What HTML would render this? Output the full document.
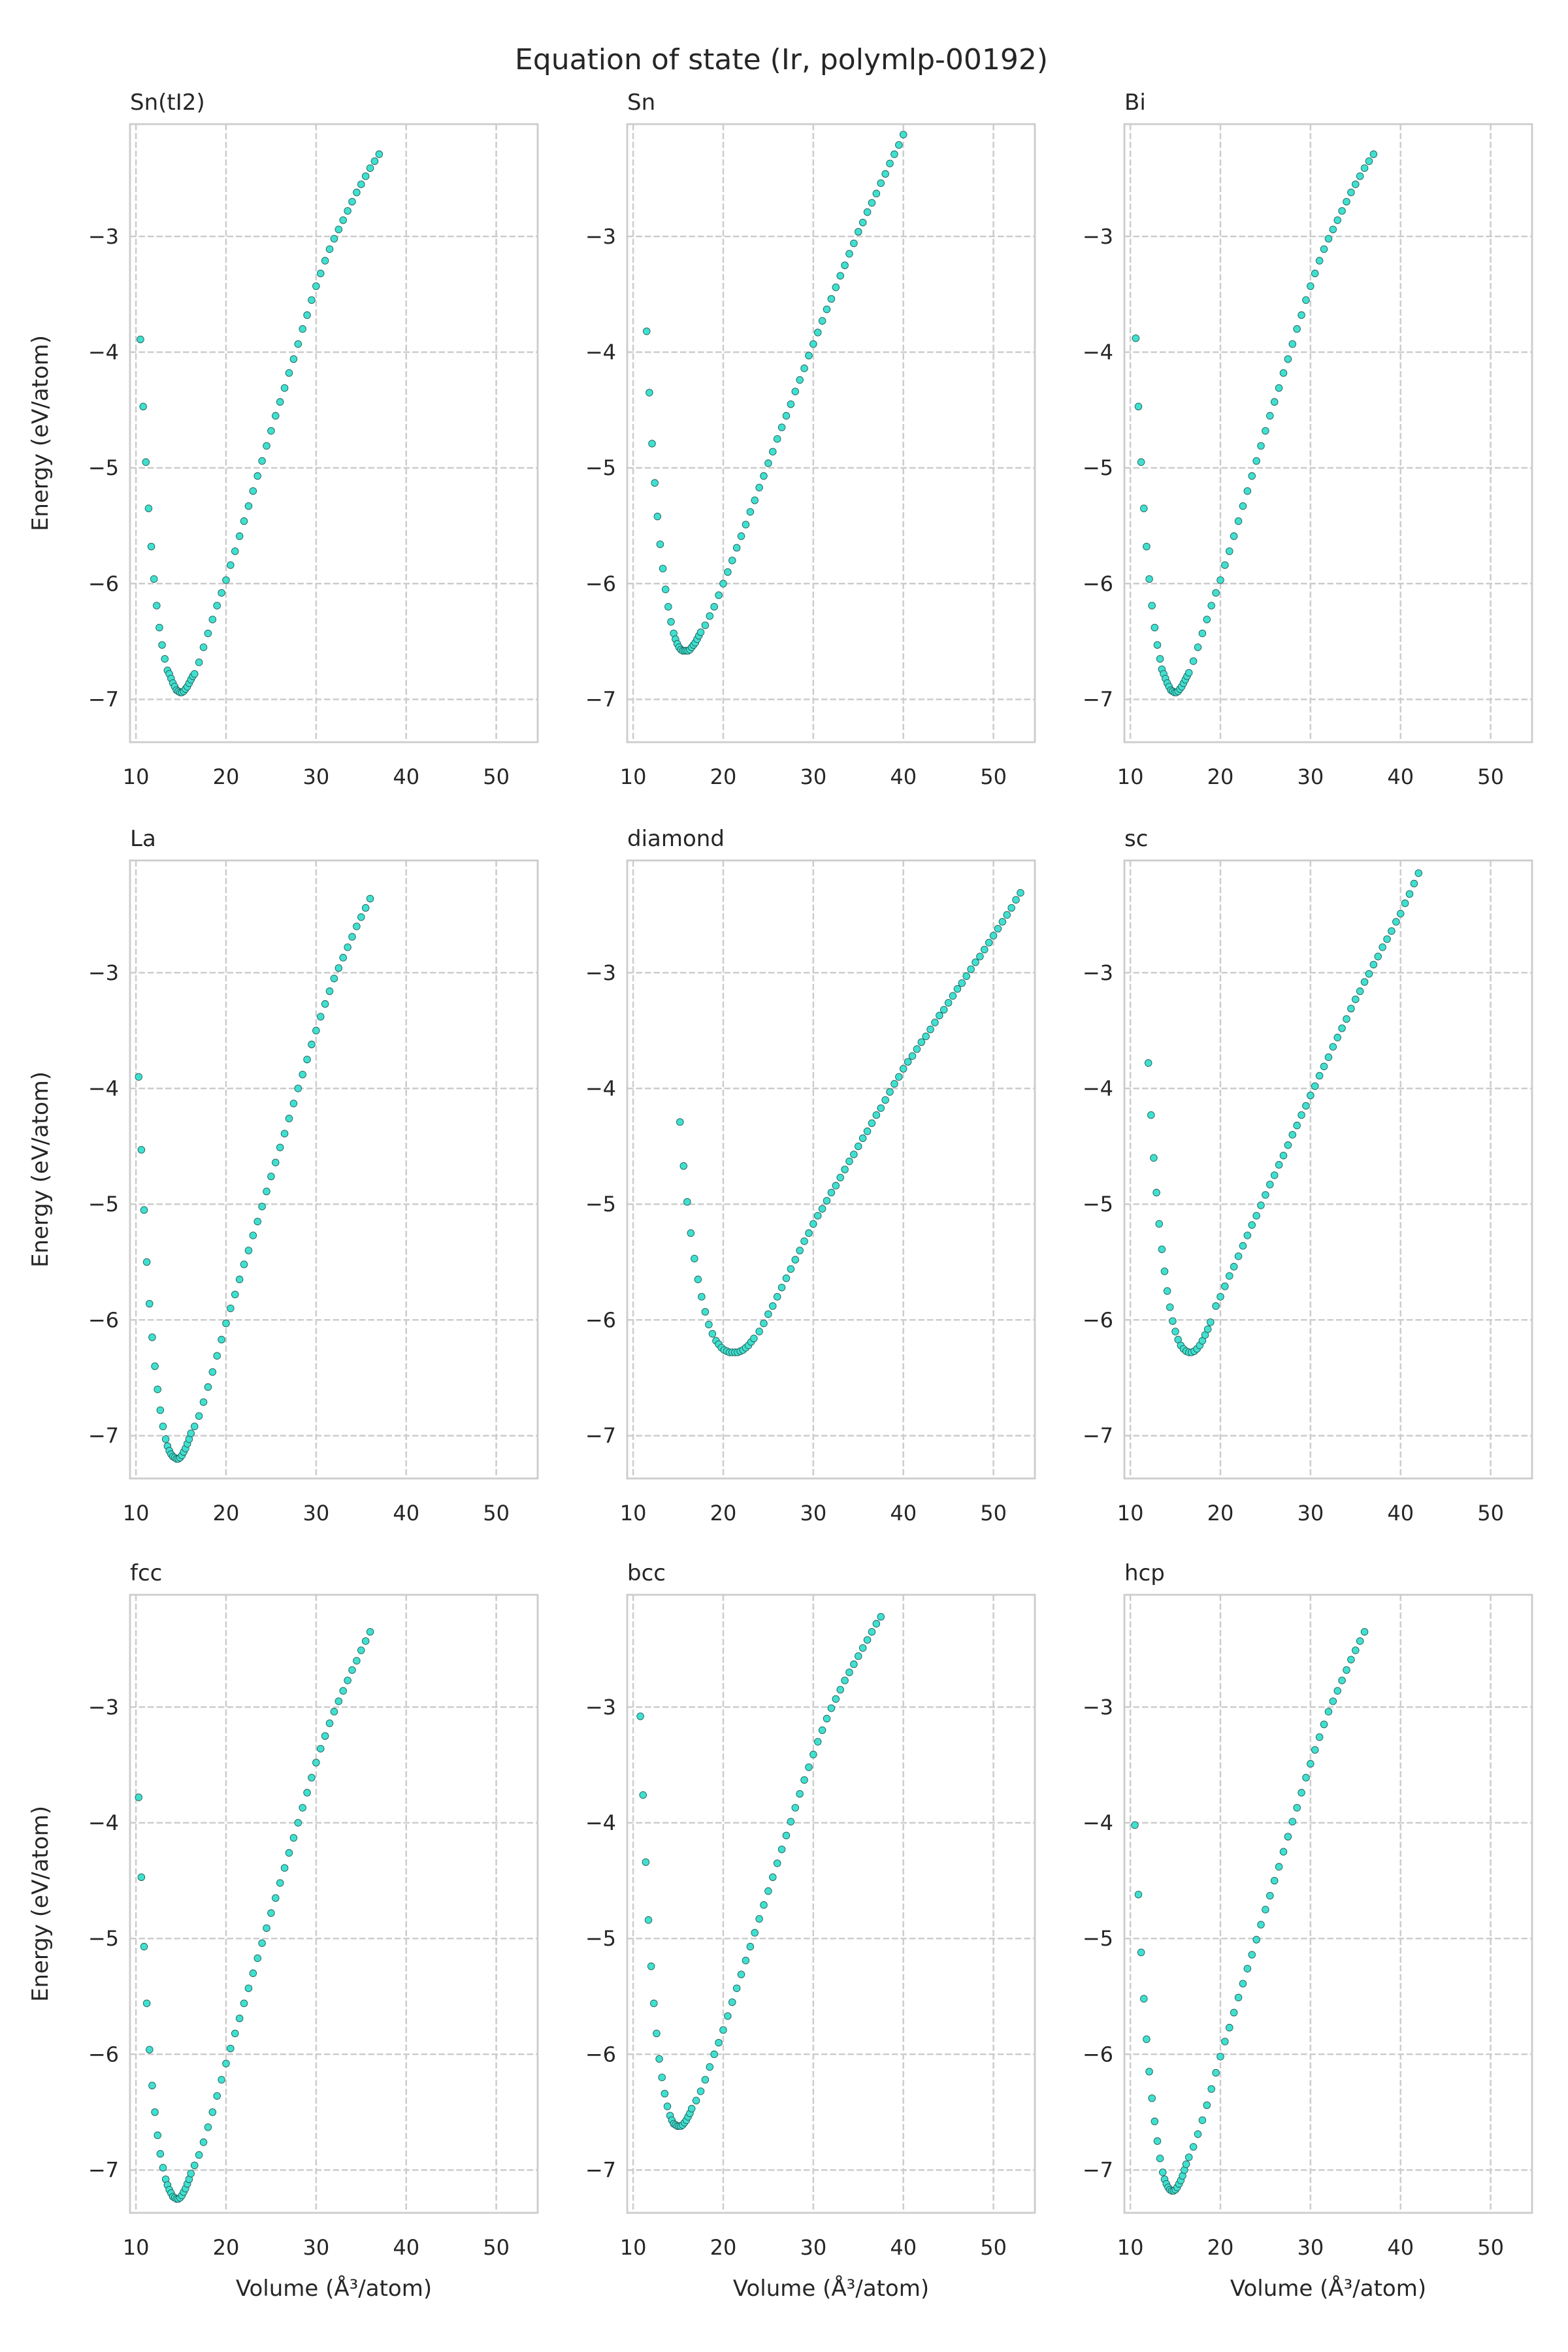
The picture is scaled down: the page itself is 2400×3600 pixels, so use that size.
<!DOCTYPE html>
<html><head><meta charset="utf-8"><title>Equation of state (Ir, polymlp-00192)</title>
<style>
html,body{margin:0;padding:0;background:#fff;}
svg{display:block;font-family:"DejaVu Sans","Liberation Sans",sans-serif;}
</style></head>
<body>
<svg id="fig" width="2400" height="3600" viewBox="0 0 2400 3600" xmlns="http://www.w3.org/2000/svg">
<rect width="2400" height="3600" fill="#ffffff"/>
<text x="1196" y="106" font-size="44" fill="#262626" text-anchor="middle">Equation of state (Ir, polymlp-00192)</text>
</svg>
<script>
const xTicks = [10, 20, 30, 40, 50];
const yTicks = [-7, -6, -5, -4, -3];
const xTickLabels = ["10", "20", "30", "40", "50"];
const yTickLabels = ["\u22127", "\u22126", "\u22125", "\u22124", "\u22123"];
const titles = ["Sn(tI2)", "Sn", "Bi", "La", "diamond", "sc", "fcc", "bcc", "hcp"];

const vSnTI2 = [10.5,10.8,11.1,11.4,11.7,12.0,12.3,12.6,12.9,13.2,13.5,13.7,13.9,14.1,14.3,14.5,14.7,14.9,15.1,15.3,15.5,15.7,15.9,16.1,16.3,16.5,17,17.5,18,18.5,19,19.5,20,20.5,21,21.5,22,22.5,23,23.5,24,24.5,25,25.5,26,26.5,27,27.5,28,28.5,29,29.5,30,30.5,31,31.5,32,32.5,33,33.5,34,34.5,35,35.5,36,36.5,37];
const eSnTI2 = [-3.89,-4.47,-4.95,-5.35,-5.68,-5.96,-6.19,-6.38,-6.53,-6.65,-6.75,-6.78,-6.82,-6.86,-6.89,-6.92,-6.93,-6.94,-6.94,-6.93,-6.91,-6.89,-6.86,-6.83,-6.80,-6.78,-6.68,-6.55,-6.43,-6.31,-6.19,-6.08,-5.97,-5.84,-5.72,-5.59,-5.46,-5.33,-5.20,-5.07,-4.94,-4.81,-4.68,-4.55,-4.43,-4.31,-4.18,-4.06,-3.93,-3.80,-3.68,-3.55,-3.43,-3.32,-3.21,-3.11,-3.02,-2.94,-2.86,-2.78,-2.70,-2.62,-2.55,-2.48,-2.41,-2.35,-2.29];

const vSn = [11.5,11.8,12.1,12.4,12.7,13.0,13.3,13.6,13.9,14.2,14.5,14.7,14.9,15.1,15.3,15.5,15.7,15.9,16.1,16.3,16.5,16.7,16.9,17.1,17.3,17.5,18,18.5,19,19.5,20,20.5,21,21.5,22,22.5,23,23.5,24,24.5,25,25.5,26,26.5,27,27.5,28,28.5,29,29.5,30,30.5,31,31.5,32,32.5,33,33.5,34,34.5,35,35.5,36,36.5,37,37.5,38,38.5,39,39.5,40];
const eSn = [-3.82,-4.35,-4.79,-5.13,-5.42,-5.66,-5.87,-6.05,-6.20,-6.33,-6.43,-6.48,-6.52,-6.55,-6.57,-6.58,-6.58,-6.58,-6.58,-6.57,-6.55,-6.53,-6.51,-6.48,-6.45,-6.42,-6.36,-6.28,-6.20,-6.10,-6.00,-5.90,-5.80,-5.69,-5.59,-5.49,-5.38,-5.28,-5.17,-5.07,-4.96,-4.86,-4.75,-4.65,-4.55,-4.45,-4.34,-4.24,-4.14,-4.03,-3.93,-3.83,-3.73,-3.63,-3.54,-3.44,-3.34,-3.25,-3.15,-3.06,-2.96,-2.88,-2.79,-2.71,-2.63,-2.54,-2.46,-2.37,-2.29,-2.21,-2.12];

const vBi = [10.6,10.9,11.2,11.5,11.8,12.1,12.4,12.7,13.0,13.3,13.5,13.7,13.9,14.1,14.3,14.5,14.7,14.9,15.1,15.3,15.5,15.7,15.9,16.1,16.3,16.5,17,17.5,18,18.5,19,19.5,20,20.5,21,21.5,22,22.5,23,23.5,24,24.5,25,25.5,26,26.5,27,27.5,28,28.5,29,29.5,30,30.5,31,31.5,32,32.5,33,33.5,34,34.5,35,35.5,36,36.5,37];
const eBi = [-3.88,-4.47,-4.95,-5.35,-5.68,-5.96,-6.19,-6.38,-6.53,-6.65,-6.74,-6.78,-6.82,-6.86,-6.89,-6.92,-6.93,-6.94,-6.94,-6.93,-6.91,-6.89,-6.86,-6.83,-6.80,-6.77,-6.67,-6.55,-6.43,-6.31,-6.19,-6.08,-5.97,-5.84,-5.72,-5.59,-5.46,-5.33,-5.20,-5.07,-4.94,-4.81,-4.68,-4.55,-4.43,-4.31,-4.18,-4.06,-3.93,-3.80,-3.68,-3.55,-3.43,-3.32,-3.21,-3.11,-3.02,-2.94,-2.86,-2.78,-2.70,-2.62,-2.55,-2.48,-2.41,-2.35,-2.29];

const vLa = [10.3,10.6,10.9,11.2,11.5,11.8,12.1,12.4,12.7,13.0,13.3,13.5,13.7,13.9,14.1,14.3,14.5,14.7,14.9,15.1,15.3,15.5,15.7,15.9,16.1,16.5,17,17.5,18,18.5,19,19.5,20,20.5,21,21.5,22,22.5,23,23.5,24,24.5,25,25.5,26,26.5,27,27.5,28,28.5,29,29.5,30,30.5,31,31.5,32,32.5,33,33.5,34,34.5,35,35.5,36];
const eLa = [-3.90,-4.53,-5.05,-5.50,-5.86,-6.15,-6.40,-6.60,-6.78,-6.92,-7.03,-7.09,-7.13,-7.16,-7.18,-7.19,-7.20,-7.20,-7.19,-7.17,-7.14,-7.11,-7.07,-7.03,-6.98,-6.92,-6.83,-6.71,-6.58,-6.45,-6.31,-6.17,-6.03,-5.90,-5.78,-5.65,-5.52,-5.40,-5.27,-5.15,-5.02,-4.89,-4.76,-4.64,-4.51,-4.39,-4.26,-4.13,-4.00,-3.88,-3.75,-3.62,-3.50,-3.38,-3.27,-3.16,-3.05,-2.96,-2.87,-2.78,-2.69,-2.60,-2.52,-2.44,-2.36];

const vDiamond = [15.2,15.6,16.0,16.4,16.8,17.2,17.6,18.0,18.4,18.8,19.2,19.5,19.8,20.1,20.4,20.7,21.0,21.3,21.6,21.9,22.2,22.5,22.8,23.1,23.4,24,24.5,25,25.5,26,26.5,27,27.5,28,28.5,29,29.5,30,30.5,31,31.5,32,32.5,33,33.5,34,34.5,35,35.5,36,36.5,37,37.5,38,38.5,39,39.5,40,40.5,41,41.5,42,42.5,43,43.5,44,44.5,45,45.5,46,46.5,47,47.5,48,48.5,49,49.5,50,50.5,51,51.5,52,52.5,53];
const eDiamond = [-4.29,-4.67,-4.98,-5.25,-5.47,-5.65,-5.80,-5.93,-6.04,-6.12,-6.18,-6.21,-6.24,-6.26,-6.27,-6.28,-6.28,-6.28,-6.28,-6.27,-6.26,-6.24,-6.22,-6.19,-6.16,-6.10,-6.03,-5.95,-5.88,-5.80,-5.72,-5.64,-5.56,-5.48,-5.40,-5.32,-5.25,-5.17,-5.10,-5.04,-4.97,-4.90,-4.84,-4.77,-4.70,-4.63,-4.57,-4.50,-4.43,-4.37,-4.30,-4.23,-4.17,-4.10,-4.03,-3.96,-3.90,-3.83,-3.77,-3.72,-3.66,-3.60,-3.55,-3.49,-3.43,-3.37,-3.32,-3.26,-3.20,-3.14,-3.09,-3.03,-2.97,-2.91,-2.86,-2.80,-2.74,-2.68,-2.62,-2.56,-2.50,-2.44,-2.37,-2.31];

const vSc = [12.0,12.3,12.6,12.9,13.2,13.5,13.8,14.1,14.4,14.7,15.0,15.3,15.6,15.9,16.2,16.5,16.8,17.1,17.4,17.7,18.0,18.3,18.6,18.9,19.5,20,20.5,21,21.5,22,22.5,23,23.5,24,24.5,25,25.5,26,26.5,27,27.5,28,28.5,29,29.5,30,30.5,31,31.5,32,32.5,33,33.5,34,34.5,35,35.5,36,36.5,37,37.5,38,38.5,39,39.5,40,40.5,41,41.5,42];
const eSc = [-3.78,-4.23,-4.60,-4.90,-5.17,-5.39,-5.58,-5.75,-5.89,-6.01,-6.10,-6.17,-6.22,-6.25,-6.27,-6.28,-6.28,-6.27,-6.25,-6.22,-6.18,-6.13,-6.08,-6.02,-5.88,-5.80,-5.71,-5.62,-5.54,-5.45,-5.36,-5.27,-5.18,-5.10,-5.01,-4.92,-4.83,-4.75,-4.66,-4.58,-4.49,-4.40,-4.32,-4.23,-4.15,-4.06,-3.98,-3.89,-3.81,-3.73,-3.64,-3.56,-3.48,-3.40,-3.31,-3.23,-3.16,-3.08,-3.01,-2.93,-2.86,-2.78,-2.71,-2.64,-2.56,-2.49,-2.40,-2.32,-2.23,-2.14];

const vFcc = [10.3,10.6,10.9,11.2,11.5,11.8,12.1,12.4,12.7,13.0,13.3,13.5,13.7,13.9,14.1,14.3,14.5,14.7,14.9,15.1,15.3,15.5,15.7,15.9,16.1,16.5,17,17.5,18,18.5,19,19.5,20,20.5,21,21.5,22,22.5,23,23.5,24,24.5,25,25.5,26,26.5,27,27.5,28,28.5,29,29.5,30,30.5,31,31.5,32,32.5,33,33.5,34,34.5,35,35.5,36];
const eFcc = [-3.78,-4.47,-5.07,-5.56,-5.96,-6.27,-6.50,-6.70,-6.86,-6.98,-7.08,-7.13,-7.17,-7.20,-7.23,-7.24,-7.25,-7.25,-7.24,-7.22,-7.19,-7.16,-7.12,-7.08,-7.03,-6.96,-6.87,-6.76,-6.63,-6.50,-6.36,-6.22,-6.08,-5.95,-5.82,-5.69,-5.56,-5.43,-5.30,-5.17,-5.04,-4.91,-4.78,-4.65,-4.52,-4.39,-4.26,-4.13,-4.00,-3.87,-3.74,-3.61,-3.48,-3.36,-3.25,-3.14,-3.04,-2.95,-2.86,-2.77,-2.68,-2.60,-2.51,-2.43,-2.35];

const vBcc = [10.8,11.1,11.4,11.7,12.0,12.3,12.6,12.9,13.2,13.5,13.8,14.1,14.3,14.5,14.7,14.9,15.1,15.3,15.5,15.7,15.9,16.1,16.3,16.5,17,17.5,18,18.5,19,19.5,20,20.5,21,21.5,22,22.5,23,23.5,24,24.5,25,25.5,26,26.5,27,27.5,28,28.5,29,29.5,30,30.5,31,31.5,32,32.5,33,33.5,34,34.5,35,35.5,36,36.5,37,37.5];
const eBcc = [-3.08,-3.76,-4.34,-4.84,-5.24,-5.56,-5.82,-6.04,-6.20,-6.34,-6.45,-6.53,-6.57,-6.60,-6.61,-6.62,-6.62,-6.62,-6.61,-6.59,-6.57,-6.54,-6.51,-6.47,-6.40,-6.32,-6.22,-6.11,-6.00,-5.90,-5.79,-5.67,-5.55,-5.43,-5.31,-5.19,-5.07,-4.95,-4.83,-4.71,-4.59,-4.47,-4.35,-4.23,-4.11,-3.99,-3.87,-3.75,-3.63,-3.52,-3.41,-3.30,-3.20,-3.10,-3.01,-2.93,-2.85,-2.77,-2.70,-2.63,-2.56,-2.49,-2.42,-2.35,-2.28,-2.22];

const vHcp = [10.5,10.9,11.2,11.5,11.8,12.1,12.4,12.7,13.0,13.3,13.6,13.8,14.0,14.2,14.4,14.6,14.8,15.0,15.2,15.4,15.6,15.8,16.0,16.2,16.5,17,17.5,18,18.5,19,19.5,20,20.5,21,21.5,22,22.5,23,23.5,24,24.5,25,25.5,26,26.5,27,27.5,28,28.5,29,29.5,30,30.5,31,31.5,32,32.5,33,33.5,34,34.5,35,35.5,36];
const eHcp = [-4.02,-4.62,-5.12,-5.52,-5.87,-6.15,-6.38,-6.58,-6.75,-6.90,-7.02,-7.08,-7.12,-7.15,-7.17,-7.18,-7.18,-7.17,-7.15,-7.12,-7.09,-7.05,-7.00,-6.95,-6.89,-6.80,-6.69,-6.57,-6.44,-6.30,-6.16,-6.02,-5.89,-5.77,-5.64,-5.51,-5.39,-5.26,-5.14,-5.01,-4.88,-4.75,-4.63,-4.50,-4.38,-4.25,-4.12,-3.99,-3.87,-3.74,-3.61,-3.49,-3.37,-3.26,-3.15,-3.04,-2.95,-2.86,-2.77,-2.68,-2.59,-2.51,-2.43,-2.35];

const volumes = [vSnTI2, vSn, vBi, vLa, vDiamond, vSc, vFcc, vBcc, vHcp];
const energies = [eSnTI2, eSn, eBi, eLa, eDiamond, eSc, eFcc, eBcc, eHcp];

const NS = "http://www.w3.org/2000/svg";
const svg = document.getElementById("fig");
const colLeft = [199, 960, 1721], rowTop = [190, 1317, 2441];
const W = 624, H = 946;
const xMin = 9.34, xMax = 54.6, yMin = -7.37, yMax = -2.03;
function mk(tag, attrs, parent) {
  const e = document.createElementNS(NS, tag);
  for (const k in attrs) e.setAttribute(k, attrs[k]);
  (parent || svg).appendChild(e);
  return e;
}
for (let i = 0; i < 9; i++) {
  const r = Math.floor(i / 3), c = i % 3;
  const L = colLeft[c], T = rowTop[r];
  const sx = v => L + (v - xMin) / (xMax - xMin) * W;
  const sy = e => T + (yMax - e) / (yMax - yMin) * H;
  const slug = titles[i].toLowerCase().replace(/[^a-z0-9]+/g, "-").replace(/-$/, "");
  const g = mk("g", {});
  
  
  mk("rect", {x: L, y: T, width: W, height: H, fill: "#fff"}, g);
  xTicks.forEach((t, k) => {
    const x = sx(t);
    const gl = mk("line", {x1: x, x2: x, y1: T, y2: T + H, stroke: "#cccccc", "stroke-width": 2.5, "stroke-dasharray": "9.5,4"}, g);
    
    
    const tl = mk("text", {x: x, y: T + H + 64, "font-size": 32, fill: "#262626", "text-anchor": "middle"}, g);
    tl.textContent = xTickLabels[k];
    
    
  });
  yTicks.forEach((t, k) => {
    const y = sy(t);
    const gl = mk("line", {x1: L, x2: L + W, y1: y, y2: y, stroke: "#cccccc", "stroke-width": 2.5, "stroke-dasharray": "9.5,4"}, g);
    
    
    const tl = mk("text", {x: L - 17, y: y + 11, "font-size": 32, fill: "#262626", "text-anchor": "end"}, g);
    tl.textContent = yTickLabels[k];
    
    
  });
  const fr = mk("rect", {x: L, y: T, width: W, height: H, fill: "none", stroke: "#cccccc", "stroke-width": 2.8}, g);
  
  
  const tt = mk("text", {x: L, y: T - 22, "font-size": 34, fill: "#262626"}, g);
  tt.textContent = titles[i];
  
  
  const vs = volumes[i], es = energies[i];
  for (let j = 0; j < vs.length; j++) {
    const p = mk("circle", {cx: sx(vs[j]), cy: sy(es[j]), r: 5.3, fill: "#40e0d0", stroke: "#1f5f58", "stroke-width": 0.9}, g);
    
    
  }
  if (c === 0) {
    const yl = mk("text", {x: 0, y: 0, "font-size": 34, fill: "#262626", "text-anchor": "middle", transform: "translate(73," + (T + H / 2) + ") rotate(-90)"}, g);
    yl.textContent = "Energy (eV/atom)";
    
    
  }
  if (r === 2) {
    const xl = mk("text", {x: L + W / 2, y: 3514, "font-size": 34, fill: "#262626", "text-anchor": "middle"}, g);
    xl.textContent = "Volume (\u00C5\u00B3/atom)";
    
    
  }
}
</script>
</body></html>
